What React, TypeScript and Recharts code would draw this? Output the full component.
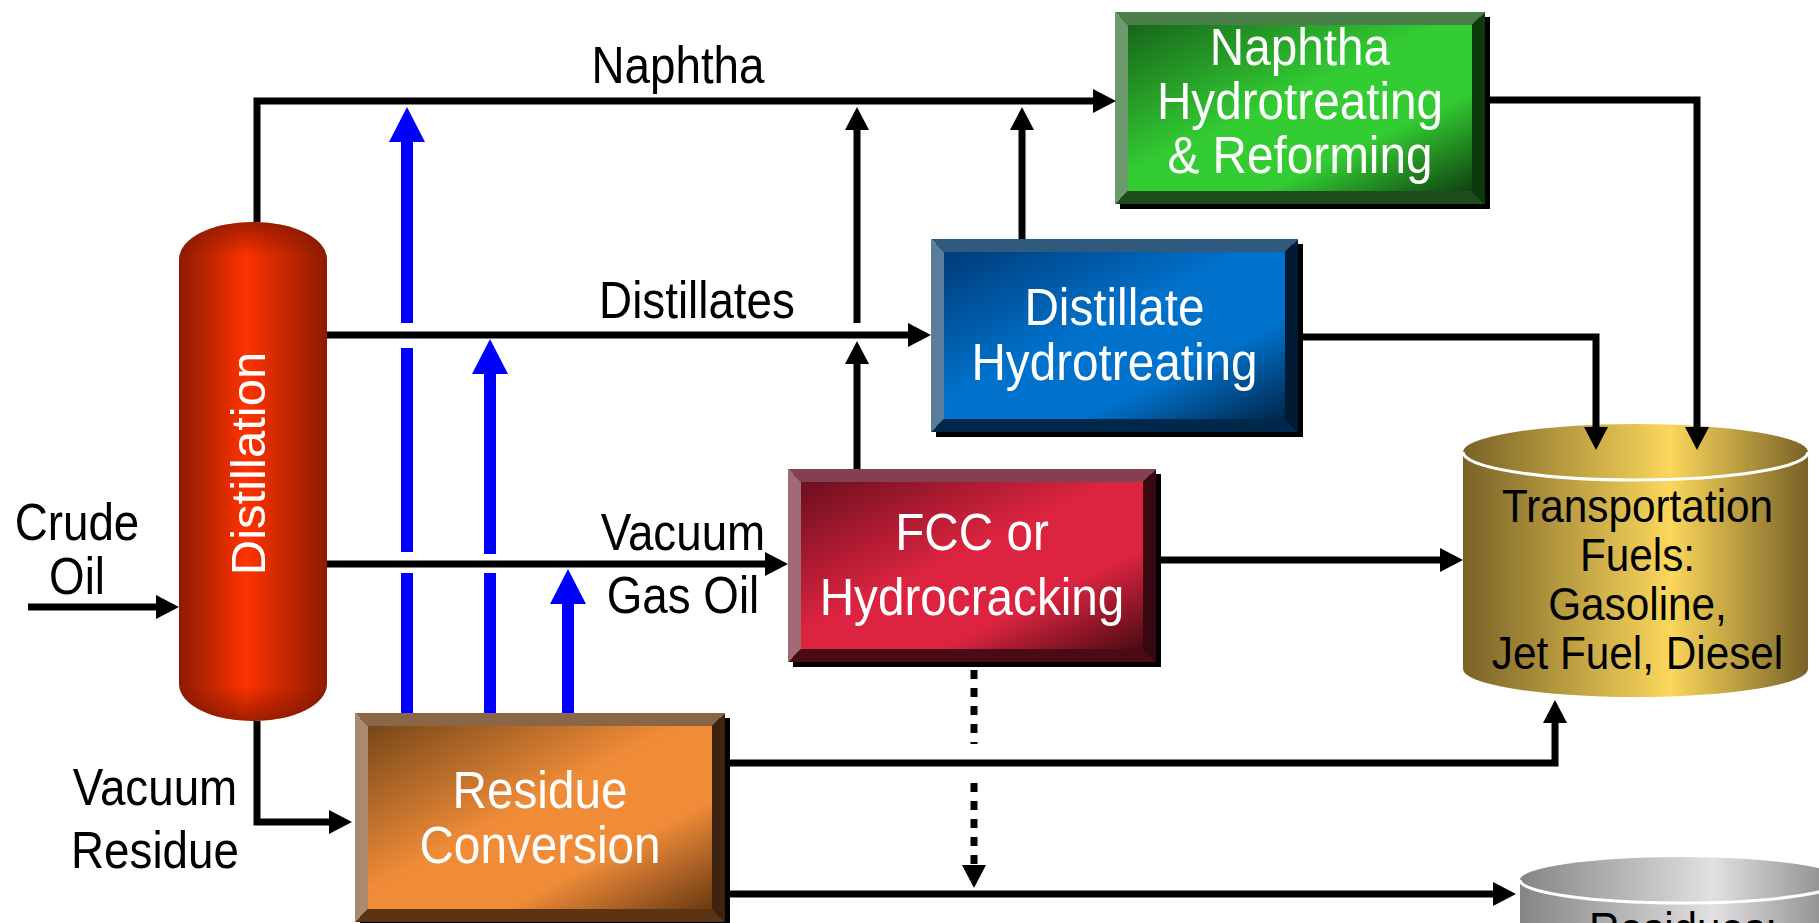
import React from "react"
import { ComposedChart, XAxis, YAxis, Line, Scatter, ReferenceArea } from "recharts"

type Pt = [number, number]

const W = 1819
const H = 923

// diagram space: x to the right, y downwards, same units as the picture
const units = [
  { id: "nht", lines: ["Naphtha", "Hydrotreating", "& Reforming"], x1: 1115, x2: 1485, y1: 12, y2: 204 },
  { id: "dht", lines: ["Distillate", "Hydrotreating"], x1: 931, x2: 1298, y1: 239, y2: 432 },
  { id: "fcc", lines: ["FCC or", "Hydrocracking"], x1: 788, x2: 1156, y1: 469, y2: 662 },
  { id: "rc", lines: ["Residue", "Conversion"], x1: 355, x2: 725, y1: 713, y2: 922 },
]

const tanks = [
  { id: "fuels", lines: ["Transportation", "Fuels:", "Gasoline,", "Jet Fuel, Diesel"], x1: 1463, x2: 1808, y1: 424, y2: 697 },
  { id: "residues", lines: ["Residues:"], x1: 1520, x2: 1842, y1: 857, y2: 1130 },
]

const column = { label: "Distillation", x1: 179, x2: 327, y1: 222, y2: 721 }

const streams: { name: string; path: Pt[]; head: boolean; dashed?: boolean }[] = [
  { name: "Crude Oil", path: [[28, 607], [179, 607]], head: true },
  { name: "Naphtha", path: [[257, 222], [257, 101], [1116, 101]], head: true },
  { name: "Distillates", path: [[327, 335], [931, 335]], head: true },
  { name: "Vacuum Gas Oil", path: [[327, 564], [788, 564]], head: true },
  { name: "Vacuum Residue", path: [[257, 721], [257, 822], [352, 822]], head: true },
  { name: "Distillates to naphtha", path: [[857, 323], [857, 107]], head: true },
  { name: "FCC to distillates", path: [[857, 469], [857, 341]], head: true },
  { name: "DHT to naphtha", path: [[1022, 239], [1022, 107]], head: true },
  { name: "NHT product", path: [[1485, 100], [1697, 100], [1697, 450]], head: true },
  { name: "DHT product", path: [[1298, 337], [1596, 337], [1596, 450]], head: true },
  { name: "FCC product", path: [[1156, 560], [1463, 560]], head: true },
  { name: "Residue to fuels", path: [[730, 763], [1555, 763], [1555, 700]], head: true },
  { name: "Residue to residues", path: [[730, 894], [1516, 894]], head: true },
  { name: "FCC bottoms", path: [[974, 670], [974, 744]], head: false, dashed: true },
  { name: "FCC bottoms 2", path: [[974, 783], [974, 888]], head: true, dashed: true },
]

// blue risers out of residue conversion (broken where they cross a stream)
const risers: { path: Pt[]; head: boolean }[] = [
  { path: [[407, 713], [407, 573]], head: false },
  { path: [[407, 552], [407, 348]], head: false },
  { path: [[407, 323], [407, 107]], head: true },
  { path: [[490, 713], [490, 573]], head: false },
  { path: [[490, 554], [490, 339]], head: true },
  { path: [[568, 713], [568, 569]], head: true },
]

const streamLabels = [
  { text: "Naphtha", x: 678, y: 83 },
  { text: "Distillates", x: 697, y: 318 },
  { text: "Vacuum", x: 683, y: 550 },
  { text: "Gas Oil", x: 683, y: 613 },
  { text: "Crude", x: 77, y: 540 },
  { text: "Oil", x: 77, y: 594 },
  { text: "Vacuum", x: 155, y: 805 },
  { text: "Residue", x: 155, y: 868 },
]

// no narrow face installed: squeeze Liberation Sans horizontally instead
const SANS = "'Liberation Sans', Arial, sans-serif"
const BLUE = "#0000ff"

const unitTones: Record<string, any> = {
  nht: { dark: "#17661a", light: "#33cc33", deep: "#0f420f", top: "#4a7f4a", left: "#6d9a6d", bottom: "#1d4d1d", right: "#0e380e", lead: 54, shift: 11 },
  dht: { dark: "#003b78", light: "#0072cc", deep: "#00264c", top: "#2f5a7e", left: "#5c7c9c", bottom: "#00284a", right: "#001a33", lead: 55, shift: 17 },
  fcc: { dark: "#6c0f1e", light: "#dc2440", deep: "#4c0a14", top: "#844050", left: "#a06a74", bottom: "#4a0a16", right: "#380810", lead: 65, shift: 17 },
  rc: { dark: "#774719", light: "#f08c38", deep: "#6a3a12", top: "#8b6646", left: "#a88a70", bottom: "#5a3414", right: "#3e2410", lead: 55, shift: 18 },
}

const tankTones: Record<string, any> = {
  fuels: { edge: "#786227", light: "#fbd75b", cap: 28 },
  residues: { edge: "#858585", light: "#e2e0e0", cap: 23 },
}

function headDir(path: Pt[]) {
  const [ax, ay] = path[path.length - 2]
  const [bx, by] = path[path.length - 1]
  if (ax === bx) return by > ay ? "down" : "up"
  return bx > ax ? "right" : "left"
}

// pull the last point back so the stroke ends inside the arrow head
function trimEnd(path: Pt[], len: number): Pt[] {
  const out = path.slice(0, -1)
  const [bx, by] = path[path.length - 1]
  const d = headDir(path)
  if (d === "right") out.push([bx - len, by])
  else if (d === "left") out.push([bx + len, by])
  else if (d === "down") out.push([bx, by - len])
  else out.push([bx, by + len])
  return out
}

const BLACK_HEAD = 23
const BLUE_HEAD = 35

const heads = [
  ...streams.filter((s) => s.head).map((s) => {
    const [x, y] = s.path[s.path.length - 1]
    return { x, y, dir: headDir(s.path), kind: "black" }
  }),
  ...risers.filter((r) => r.head).map((r) => {
    const [x, y] = r.path[r.path.length - 1]
    return { x, y, dir: headDir(r.path), kind: "blue" }
  }),
]

const toRows = (path: Pt[]) => path.map(([x, y]) => ({ x, y }))

function Narrow({ x, y, text, size, sx, fill }: any) {
  return (
    <text
      transform={`translate(${x} ${y}) scale(${sx} 1)`}
      textAnchor="middle"
      fontFamily={SANS}
      fontSize={size}
      fill={fill}
    >
      {text}
    </text>
  )
}

function ArrowHead(props: any) {
  const { cx, cy, payload } = props
  const blue = payload.kind === "blue"
  const L = blue ? BLUE_HEAD : BLACK_HEAD
  const R = blue ? 18 : 12
  let pts: number[][]
  if (payload.dir === "right") pts = [[cx, cy], [cx - L, cy - R], [cx - L, cy + R]]
  else if (payload.dir === "left") pts = [[cx, cy], [cx + L, cy - R], [cx + L, cy + R]]
  else if (payload.dir === "down") pts = [[cx, cy], [cx - R, cy - L], [cx + R, cy - L]]
  else pts = [[cx, cy], [cx - R, cy + L], [cx + R, cy + L]]
  return <polygon points={pts.map((p) => p.join(",")).join(" ")} fill={blue ? BLUE : "#000"} />
}

function StreamText(props: any) {
  const { cx, cy, payload } = props
  return <Narrow x={cx} y={cy} text={payload.text} size={52} sx={0.88} fill="#000" />
}

function UnitBox(props: any) {
  const { x, y, width: w, height: h, unit } = props
  const t = unitTones[unit.id]
  const b = 13
  const gid = `face-${unit.id}`
  const cx = x + w / 2
  const cy = y + h / 2
  const n = unit.lines.length
  const poly = (p: number[][]) => p.map((q) => q.join(",")).join(" ")
  return (
    <g>
      <defs>
        <linearGradient id={gid} x1="0" y1="0" x2="1" y2="1">
          <stop offset="0" stopColor={t.dark} />
          <stop offset="0.45" stopColor={t.light} />
          <stop offset="0.7" stopColor={t.light} />
          <stop offset="1" stopColor={t.deep} />
        </linearGradient>
      </defs>
      <rect x={x + 5} y={y + 5} width={w} height={h} fill="#000" />
      <polygon points={poly([[x, y], [x + w, y], [x + w - b, y + b], [x + b, y + b]])} fill={t.top} />
      <polygon points={poly([[x, y], [x + b, y + b], [x + b, y + h - b], [x, y + h]])} fill={t.left} />
      <polygon points={poly([[x, y + h], [x + b, y + h - b], [x + w - b, y + h - b], [x + w, y + h]])} fill={t.bottom} />
      <polygon points={poly([[x + w, y], [x + w, y + h], [x + w - b, y + h - b], [x + w - b, y + b]])} fill={t.right} />
      <rect x={x + b} y={y + b} width={w - 2 * b} height={h - 2 * b} fill={`url(#${gid})`} />
      {unit.lines.map((s: string, i: number) => (
        <Narrow key={i} x={cx} y={cy + (i - (n - 1) / 2) * t.lead + t.shift} text={s} size={51} sx={0.935} fill="#fff" />
      ))}
    </g>
  )
}

function Tank(props: any) {
  const { x, y, width: w, height: h, tank } = props
  const c = tankTones[tank.id]
  const rx = w / 2
  const ry = c.cap
  const top = y + ry
  const bot = y + h - ry
  const gid = `tank-${tank.id}`
  return (
    <g>
      <defs>
        <linearGradient id={gid} x1="0" y1="0" x2="1" y2="0">
          <stop offset="0" stopColor={c.edge} />
          <stop offset="0.6" stopColor={c.light} />
          <stop offset="1" stopColor={c.edge} />
        </linearGradient>
      </defs>
      <path d={`M${x},${top} L${x},${bot} A${rx},${ry} 0 0 0 ${x + w},${bot} L${x + w},${top} Z`} fill={`url(#${gid})`} />
      <ellipse cx={x + rx} cy={top} rx={rx} ry={ry} fill={`url(#${gid})`} />
      <path d={`M${x},${top} A${rx},${ry} 0 0 0 ${x + w},${top}`} fill="none" stroke="#fff" strokeWidth={3} />
      {tank.lines.map((s: string, i: number) => (
        <Narrow key={i} x={x + rx + 2} y={y + 2 * ry + 42 + i * 49} text={s} size={47} sx={0.9} fill="#000" />
      ))}
    </g>
  )
}

function Column(props: any) {
  const { x, y, width: w, height: h } = props
  const ry = 37
  const cx = x + w / 2
  const cy = y + h / 2
  const d = `M${x},${y + ry} A${w / 2},${ry} 0 0 1 ${x + w},${y + ry} L${x + w},${y + h - ry} A${w / 2},${ry} 0 0 1 ${x},${y + h - ry} Z`
  return (
    <g>
      <defs>
        <linearGradient id="col-h" x1="0" y1="0" x2="1" y2="0">
          <stop offset="0" stopColor="#8c1b00" />
          <stop offset="0.45" stopColor="#ff3300" />
          <stop offset="1" stopColor="#8c1b00" />
        </linearGradient>
        <linearGradient id="col-v" x1="0" y1="0" x2="0" y2="1">
          <stop offset="0" stopColor="#7a1500" stopOpacity="0.7" />
          <stop offset="0.07" stopColor="#7a1500" stopOpacity="0" />
          <stop offset="0.93" stopColor="#7a1500" stopOpacity="0" />
          <stop offset="1" stopColor="#7a1500" stopOpacity="0.7" />
        </linearGradient>
      </defs>
      <path d={d} fill="url(#col-h)" />
      <path d={d} fill="url(#col-v)" />
      <text
        x={cx - 5}
        y={cy - 8}
        transform={`rotate(-90 ${cx - 5} ${cy - 8})`}
        textAnchor="middle"
        dominantBaseline="central"
        fontFamily={SANS}
        fontSize={49}
        fill="#fff"
      >
        {column.label}
      </text>
    </g>
  )
}

export default function App() {
  return (
    <div style={{ position: "absolute", left: 0, top: 0, background: "#fff" }}>
      <ComposedChart width={W} height={H} margin={{ top: 0, right: 0, bottom: 0, left: 0 }}>
        <XAxis type="number" dataKey="x" domain={[0, W]} allowDataOverflow hide />
        <YAxis type="number" dataKey="y" domain={[0, H]} allowDataOverflow reversed hide />

        {units.map((u) => (
          <ReferenceArea
            key={u.id}
            x1={u.x1}
            x2={u.x2}
            y1={u.y1}
            y2={u.y2}
            ifOverflow="visible"
            shape={(p: any) => <UnitBox {...p} unit={u} />}
          />
        ))}
        {tanks.map((t) => (
          <ReferenceArea
            key={t.id}
            x1={t.x1}
            x2={t.x2}
            y1={t.y1}
            y2={t.y2}
            ifOverflow="visible"
            shape={(p: any) => <Tank {...p} tank={t} />}
          />
        ))}
        <ReferenceArea
          x1={column.x1}
          x2={column.x2}
          y1={column.y1}
          y2={column.y2}
          ifOverflow="visible"
          shape={(p: any) => <Column {...p} />}
        />

        {streams.map((s) => (
          <Line
            key={s.name}
            data={toRows(s.head ? trimEnd(s.path, BLACK_HEAD - 2) : s.path)}
            dataKey="y"
            type="linear"
            stroke="#000"
            strokeWidth={7}
            strokeDasharray={s.dashed ? "9 9" : undefined}
            strokeLinejoin="miter"
            dot={false}
            activeDot={false}
            legendType="none"
            isAnimationActive={false}
          />
        ))}
        {risers.map((r, i) => (
          <Line
            key={`riser-${i}`}
            data={toRows(r.head ? trimEnd(r.path, BLUE_HEAD - 2) : r.path)}
            dataKey="y"
            type="linear"
            stroke={BLUE}
            strokeWidth={12}
            dot={false}
            activeDot={false}
            legendType="none"
            isAnimationActive={false}
          />
        ))}

        <Scatter data={heads} shape={(p: any) => <ArrowHead {...p} />} isAnimationActive={false} legendType="none" />
        <Scatter data={streamLabels} shape={(p: any) => <StreamText {...p} />} isAnimationActive={false} legendType="none" />
      </ComposedChart>
    </div>
  )
}
